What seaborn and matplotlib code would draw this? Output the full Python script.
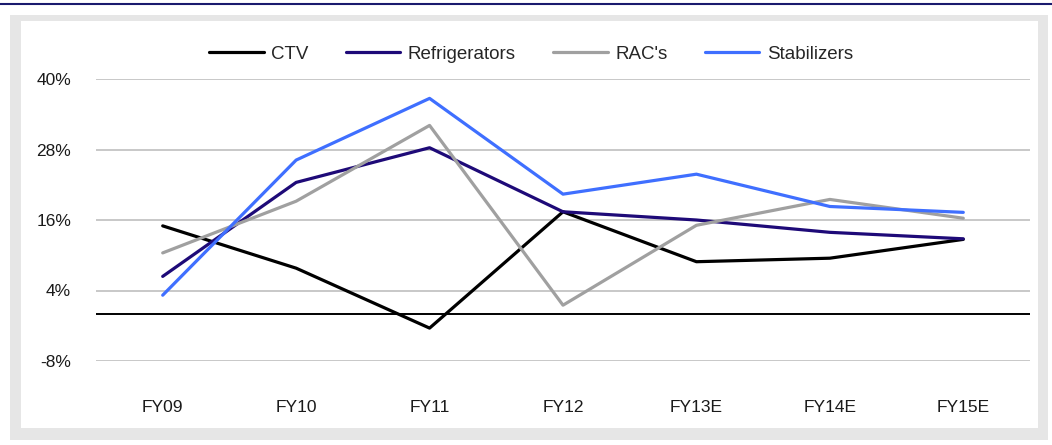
import pandas as pd
import numpy as np
import matplotlib.pyplot as plt
import seaborn as sns
from matplotlib.patches import Rectangle
from matplotlib.lines import Line2D
from matplotlib.ticker import FuncFormatter

years = ["FY09", "FY10", "FY11", "FY12", "FY13E", "FY14E", "FY15E"]
ctv = [15.0, 7.8, -2.4, 17.4, 8.9, 9.5, 12.7]
refrigerators = [6.4, 22.4, 28.3, 17.4, 16.0, 13.9, 12.8]
racs = [10.4, 19.2, 32.1, 1.5, 15.1, 19.5, 16.3]
stabilizers = [3.2, 26.2, 36.7, 20.4, 23.8, 18.3, 17.3]

series = ["CTV", "Refrigerators", "RAC's", "Stabilizers"]
colors = ["#000000", "#1e0a78", "#a0a0a0", "#3f6fff"]

df = pd.DataFrame({
    "year": years * 4,
    "value": ctv + refrigerators + racs + stabilizers,
    "series": np.repeat(series, len(years)),
})

sns.set_style("white")
plt.rcParams["font.family"] = ["Liberation Sans", "DejaVu Sans"]

fig = plt.figure(figsize=(10.52, 4.45), dpi=100)
fig.patch.set_facecolor("white")

# outer gray frame with white panel
fig.patches.append(Rectangle((10 / 1052, 5 / 445), 1038 / 1052, 425 / 445,
                             transform=fig.transFigure, facecolor="#e6e6e6",
                             edgecolor="none", zorder=-2))
fig.patches.append(Rectangle((21 / 1052, 17 / 445), 1017 / 1052, 407 / 445,
                             transform=fig.transFigure, facecolor="white",
                             edgecolor="none", zorder=-1))
fig.lines.append(Line2D([0, 1], [1 - 4 / 445, 1 - 4 / 445], transform=fig.transFigure,
                        color="#1a1a6e", lw=1.5))

ax = fig.add_axes([96 / 1052, 1 - 361 / 445, 934 / 1052, 282 / 445])
ax.set_facecolor("none")

sns.lineplot(data=df, x="year", y="value", hue="series", palette=colors,
             sort=False, linewidth=2.3, ax=ax, legend=False, zorder=3)

ax.set_ylim(-8, 40)
ax.set_yticks([-8, 4, 16, 28, 40])
ax.yaxis.set_major_formatter(FuncFormatter(lambda v, p: f"{v:.0f}%"))
ax.set_xlim(-0.5, 6.5)
ax.set_xlabel("")
ax.set_ylabel("")
ax.grid(axis="y", color="#c8c8c8", lw=1.4)
ax.grid(axis="x", visible=False)
ax.set_axisbelow(True)
ax.axhline(0, color="black", lw=1.4, zorder=2)
for s in ax.spines.values():
    s.set_visible(False)
ax.tick_params(length=0, labelsize=12.5, colors="#1a1a1a")
ax.tick_params(axis="y", pad=18)
ax.tick_params(axis="x", pad=28)

handles = [Line2D([], [], color=c, lw=2.3) for c in colors]
fig.legend(handles, series, loc="center", bbox_to_anchor=(531 / 1052, 1 - 54 / 445),
           ncol=4, frameon=False, fontsize=13.5, handlelength=2.9,
           handletextpad=0.4, columnspacing=2.0)

fig.savefig("out.png", dpi=100)
